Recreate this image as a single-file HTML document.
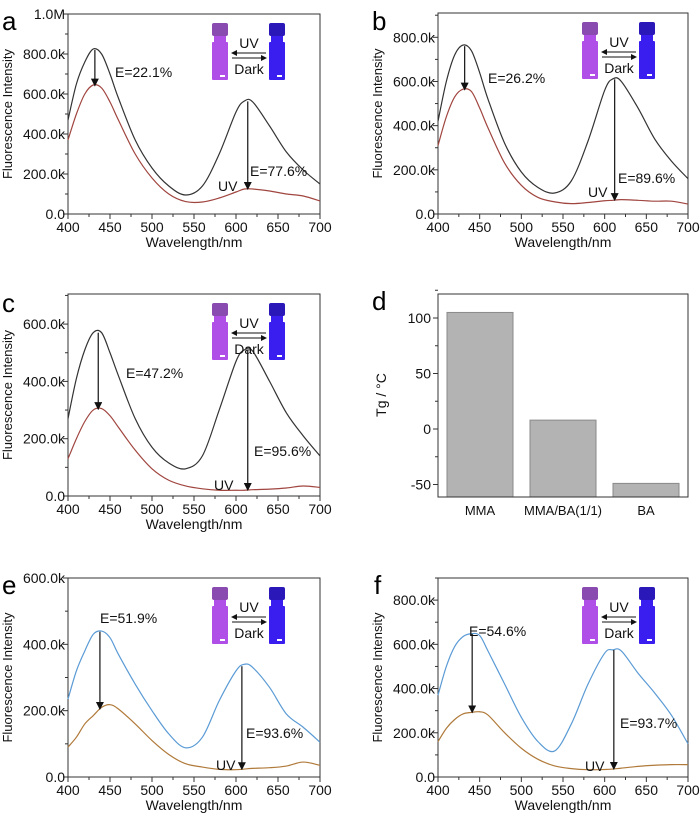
<!DOCTYPE html>
<html><head><meta charset="utf-8">
<style>
html,body{margin:0;padding:0;background:#fff;}
svg{display:block;font-family:"Liberation Sans",sans-serif;}
</style></head>
<body>
<svg id="fig" width="700" height="820" viewBox="0 0 700 820"></svg>
<script>
const wl = [400,410,420,430,440,450,460,480,500,520,540,560,580,600,610,620,640,660,680,700];
const aDark = [470,650,760,825,800,700,580,370,230,140,95,140,300,510,565,560,440,310,220,150];
const aUV   = [370,500,600,645,630,560,470,300,180,100,62,60,80,110,125,125,115,100,90,65];
const bDark = [420,600,720,765,740,640,520,320,190,120,95,150,330,560,612,600,480,340,240,160];
const bUV   = [310,440,530,565,555,480,390,230,130,75,55,47,52,60,62,65,62,58,58,45];
const cDark = [270,410,510,570,570,500,420,270,170,115,95,140,300,470,510,505,400,290,210,140];
const cUV   = [130,200,260,300,305,280,240,160,95,55,35,25,20,20,20,22,24,28,35,30];
const eDark = [235,320,380,430,440,420,370,280,200,130,88,120,230,320,340,330,270,190,150,105];
const eUV   = [90,120,160,185,210,218,205,160,110,68,40,30,23,22,24,26,28,33,45,35];
const fDark = [370,500,590,635,648,640,570,420,270,160,118,240,420,560,575,570,470,380,280,150];
const fUV   = [160,220,260,285,292,295,280,200,130,80,50,38,33,34,36,40,48,53,56,56];
const xTicks = [400,450,500,550,600,650,700];
const dCats = ["MMA","MMA/BA(1/1)","BA"];
const dVals = [105,8,-49];
const dTicks = [100,50,0,-50];

const NS="http://www.w3.org/2000/svg";
const svg=document.getElementById('fig');
function el(tag,attrs,parent,txt){const e=document.createElementNS(NS,tag);for(const k in attrs)e.setAttribute(k,attrs[k]);if(txt!==undefined)e.textContent=txt;(parent||svg).appendChild(e);return e;}
function fmt(v){return v>=1000?(v/1000).toFixed(1)+'M':v.toFixed(1)+(v===0?'':'k');}
function smooth(pts){let d='M'+pts[0][0]+','+pts[0][1];for(let i=0;i<pts.length-1;i++){const p0=pts[Math.max(0,i-1)],p1=pts[i],p2=pts[i+1],p3=pts[Math.min(pts.length-1,i+2)];const t=6;d+=' C'+(p1[0]+(p2[0]-p0[0])/t)+','+(p1[1]+(p2[1]-p0[1])/t)+' '+(p2[0]-(p3[0]-p1[0])/t)+','+(p2[1]-(p3[1]-p1[1])/t)+' '+p2[0]+','+p2[1];}return d;}

el('defs',{}).innerHTML='<marker id="ah" markerWidth="8" markerHeight="8" refX="7" refY="4" orient="auto" markerUnits="userSpaceOnUse"><path d="M0,0 L8,4 L0,8 z" fill="#111"/></marker><marker id="ahs" markerWidth="6" markerHeight="6" refX="5" refY="3" orient="auto" markerUnits="userSpaceOnUse"><path d="M0,0 L6,3 L0,6 z" fill="#111"/></marker>';

const panels=[
 {id:'a',x0:68,x1:320,y0:14,y1:214,ymax:1000,yt:[0,200,400,600,800,1000],dark:aDark,uv:aUV,cd:'#333',cu:'#a0453f',lx:2,ly:30,p1:432,p2:614,e1:['E=22.1%',115,77],e2:['E=77.6%',250,176],uvl:[218,191]},
 {id:'b',x0:438,x1:688,y0:13,y1:214,ymax:910,yt:[0,200,400,600,800],dark:bDark,uv:bUV,cd:'#333',cu:'#a0453f',lx:372,ly:30,p1:432,p2:612,e1:['E=26.2%',488,83],e2:['E=89.6%',618,183],uvl:[588,197]},
 {id:'c',x0:68,x1:320,y0:294,y1:496,ymax:705,yt:[0,200,400,600],dark:cDark,uv:cUV,cd:'#333',cu:'#a0453f',lx:2,ly:312,p1:436,p2:614,e1:['E=47.2%',126,378],e2:['E=95.6%',254,456],uvl:[214,490]},
 {id:'e',x0:68,x1:320,y0:578,y1:777,ymax:600,yt:[0,200,400,600],dark:eDark,uv:eUV,cd:'#5b9bd5',cu:'#b07a3a',lx:2,ly:594,p1:438,p2:607,e1:['E=51.9%',100,623],e2:['E=93.6%',246,738],uvl:[216,770]},
 {id:'f',x0:438,x1:688,y0:578,y1:777,ymax:900,yt:[0,200,400,600,800],dark:fDark,uv:fUV,cd:'#5b9bd5',cu:'#b07a3a',lx:374,ly:594,p1:441,p2:611,e1:['E=54.6%',469,636],e2:['E=93.7%',620,728],uvl:[585,771]},
];

function vial(g,x,y,col,capcol,name){
 const v=el('g',{},g);
 el('rect',{x:x,y:y,width:16,height:13,rx:2,fill:capcol},v);
 el('rect',{x:x+2,y:y+13,width:12,height:8,fill:col},v);
 el('rect',{x:x,y:y+19,width:16,height:38,rx:1,fill:col},v);
 el('rect',{x:x+8,y:y+52,width:5,height:2,fill:'#fff'},v);
}

panels.forEach(p=>{
 const g=el('g',{});
 const X=w=>p.x0+(w-400)/300*(p.x1-p.x0);
 const Y=v=>p.y1-v/p.ymax*(p.y1-p.y0);
 el('text',{x:p.lx,y:p.ly,'font-size':26,fill:'#000',},g,p.id);
 el('rect',{x:p.x0,y:p.y0,width:p.x1-p.x0,height:p.y1-p.y0,fill:'none',stroke:'#333','stroke-width':1,},g);
 p.yt.forEach(v=>{el('line',{x1:p.x0-5,x2:p.x0,y1:Y(v),y2:Y(v),stroke:'#333'},g);
  el('text',{x:p.x0-3,y:Y(v)+5,'font-size':14,'text-anchor':'end',fill:'#111',},g,fmt(v));
  if(Y(v+100)>=p.y0-0.5)el('line',{x1:p.x0-3,x2:p.x0,y1:Y(v+100),y2:Y(v+100),stroke:'#333'},g);});
 xTicks.forEach(w=>{el('line',{x1:X(w),x2:X(w),y1:p.y1,y2:p.y1+5,stroke:'#333'},g);
  el('text',{x:X(w),y:p.y1+18,'font-size':14,'text-anchor':'middle',fill:'#111',},g,w);
  if(w<700)el('line',{x1:X(w+25),x2:X(w+25),y1:p.y1,y2:p.y1+3,stroke:'#333'},g);});
 el('text',{x:(p.x0+p.x1)/2,y:p.y1+33,'font-size':14,'text-anchor':'middle',fill:'#111',},g,'Wavelength/nm');
 const ty=(p.y0+p.y1)/2;
 el('text',{x:p.x0-56,y:ty,'font-size':13,'text-anchor':'middle',fill:'#111',transform:'rotate(-90 '+(p.x0-56)+' '+ty+')',},g,'Fluorescence Intensity');
 el('path',{d:smooth(wl.map((w,i)=>[X(w),Y(p.dark[i])])),fill:'none',stroke:p.cd,'stroke-width':1.2,},g);
 el('path',{d:smooth(wl.map((w,i)=>[X(w),Y(p.uv[i])])),fill:'none',stroke:p.cu,'stroke-width':1.2,},g);
 const interp=(arr,w)=>{for(let i=0;i<wl.length-1;i++)if(w>=wl[i]&&w<=wl[i+1])return arr[i]+(arr[i+1]-arr[i])*(w-wl[i])/(wl[i+1]-wl[i]);return arr[0];};
 [p.p1,p.p2].forEach((w,k)=>{el('line',{x1:X(w),x2:X(w),y1:Y(interp(p.dark,w)),y2:Y(interp(p.uv,w)),stroke:'#111','stroke-width':1.2,'marker-end':'url(#ah)',},g);});
 el('text',{x:p.e1[1],y:p.e1[2],'font-size':14,fill:'#111',},g,p.e1[0]);
 el('text',{x:p.e2[1],y:p.e2[2],'font-size':14,fill:'#111',},g,p.e2[0]);
 el('text',{x:p.uvl[0],y:p.uvl[1],'font-size':14,fill:'#111',},g,'UV');
 const vx=p.x0+144, vy=p.y0+9;
 const ins=el('g',{},g);
 vial(ins,vx,vy,'#b04ee8','#8a4bb0','purple-vial');
 vial(ins,vx+57,vy,'#3a1ef0','#2a18b8','blue-vial');
 el('line',{x1:vx+54,x2:vx+20,y1:vy+30,y2:vy+30,stroke:'#111','marker-end':'url(#ahs)'},ins);
 el('line',{x1:vx+20,x2:vx+54,y1:vy+35,y2:vy+35,stroke:'#111','marker-end':'url(#ahs)'},ins);
 el('text',{x:vx+37,y:vy+25,'font-size':14,'text-anchor':'middle',fill:'#111',},ins,'UV');
 el('text',{x:vx+37,y:vy+51,'font-size':14,'text-anchor':'middle',fill:'#111',},ins,'Dark');
});

// panel d
(function(){
 const g=el('g',{});
 const x0=438,x1=688,y0=294,y1=497;
 const Y=v=>429-v*(111/100);
 const bw=66, step=83, first=447;
 el('text',{x:372,y:310,'font-size':26,fill:'#000',},g,'d');
 dVals.forEach((v,i)=>{const bx=first+i*step;
  el('rect',{x:bx,y:Y(v),width:bw,height:y1-Y(v),fill:'#b3b3b3',stroke:'#8a8a8a','stroke-width':1,},g);
  el('text',{x:bx+bw/2,y:y1+18,'font-size':13,'text-anchor':'middle',fill:'#111',},g,dCats[i]);});
 el('rect',{x:x0,y:y0,width:x1-x0,height:y1-y0,fill:'none',stroke:'#333',},g);
 dTicks.forEach(v=>{el('line',{x1:x0-5,x2:x0,y1:Y(v),y2:Y(v),stroke:'#333'},g);
  el('text',{x:x0-7,y:Y(v)+5,'font-size':14,'text-anchor':'end',fill:'#111',},g,v);
  el('line',{x1:x0-3,x2:x0,y1:Y(v+25),y2:Y(v+25),stroke:'#333'},g);});
 el('text',{x:386,y:395,'font-size':14,'text-anchor':'middle',fill:'#111',transform:'rotate(-90 386 395)',},g,'Tg / °C');
})();
</script>
</body></html>
